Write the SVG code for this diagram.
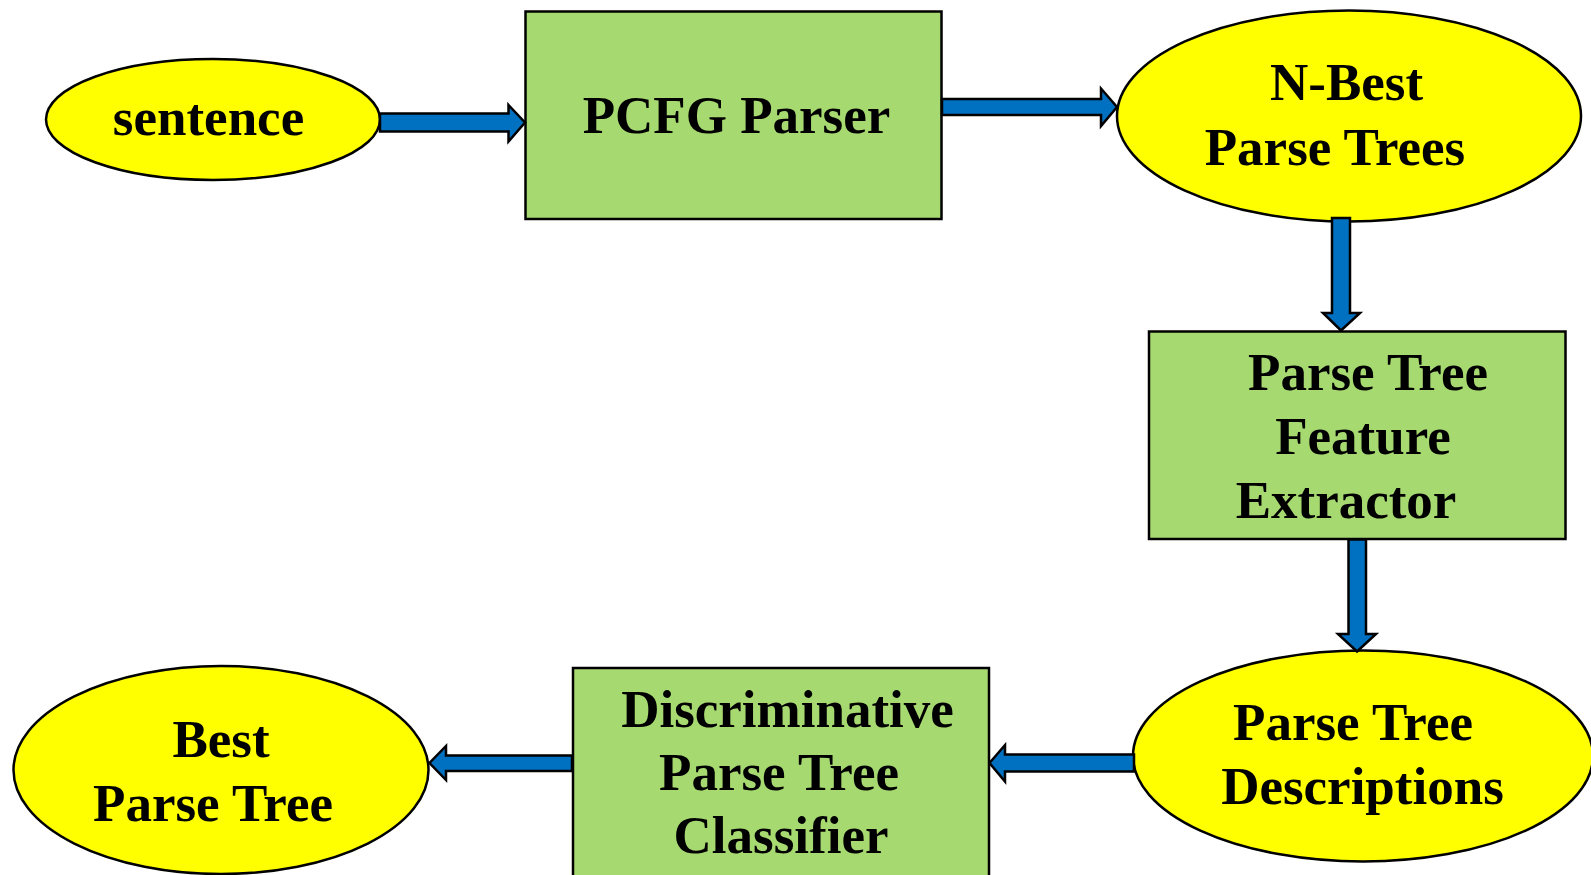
<svg xmlns="http://www.w3.org/2000/svg" width="1591" height="875" viewBox="0 0 1591 875">
<style>
.ell{fill:#FFFF00;stroke:#000;stroke-width:2.5}
.box{fill:#A7D971;stroke:#000;stroke-width:2.5}
.lbl{font-family:"Liberation Serif","Times New Roman",serif;font-weight:bold;font-size:53px;fill:#000;text-anchor:middle}
.arr{fill:#0070C0;stroke:#000;stroke-width:2.5;stroke-linejoin:miter}
</style>
<rect width="1591" height="875" fill="#fff"/>
<g id="sentence">
<ellipse class="ell" cx="213" cy="119.5" rx="167" ry="60.5"/>
<text class="lbl" x="208.5" y="135">sentence</text>
</g>
<g id="pcfg">
<rect class="box" x="525.5" y="11.5" width="416" height="207.5"/>
<text class="lbl" x="736.5" y="133">PCFG Parser</text>
</g>
<g id="nbest">
<ellipse class="ell" cx="1349" cy="116" rx="232" ry="105.5"/>
<text class="lbl" x="1346.5" y="100">N-Best</text>
<text class="lbl" x="1335" y="165">Parse Trees</text>
</g>
<g id="extractor">
<rect class="box" x="1149" y="331.5" width="416.5" height="207.5"/>
<text class="lbl" x="1368" y="390">Parse Tree</text>
<text class="lbl" x="1363" y="454">Feature</text>
<text class="lbl" x="1346" y="518">Extractor</text>
</g>
<g id="descriptions">
<ellipse class="ell" cx="1363" cy="756" rx="230" ry="105.5"/>
<text class="lbl" x="1353" y="740">Parse Tree</text>
<text class="lbl" x="1362.5" y="804">Descriptions</text>
</g>
<g id="classifier">
<rect class="box" x="573" y="668" width="416" height="220"/>
<text class="lbl" x="787.5" y="727">Discriminative</text>
<text class="lbl" x="779" y="790">Parse Tree</text>
<text class="lbl" x="781" y="853">Classifier</text>
</g>
<g id="best">
<ellipse class="ell" cx="221" cy="770" rx="207.5" ry="104"/>
<text class="lbl" x="221" y="757">Best</text>
<text class="lbl" x="213" y="821">Parse Tree</text>
</g>
<g id="connectors">
<polygon class="arr" points="380,113.5 508.5,113.5 508.5,105 525,122.5 508.5,141.5 508.5,131.5 380,131.5"/>
<polygon class="arr" points="942,99 1101,99 1101,88.5 1117,107 1101,126 1101,115 942,115"/>
<polygon class="arr" points="1332,218 1350,218 1350,313 1360,313 1341,330.5 1323,313 1332,313"/>
<polygon class="arr" points="1348.5,539.5 1366,539.5 1366,634 1376,634 1357,651.5 1338,634 1348.5,634"/>
<polygon class="arr" points="1134,754.5 1005,754.5 1005,745 989.5,763 1005,781.5 1005,771.5 1134,771.5"/>
<polygon class="arr" points="572,755.5 446,755.5 446,746 429.5,763 446,780 446,771 572,771"/>
</g>
</svg>
